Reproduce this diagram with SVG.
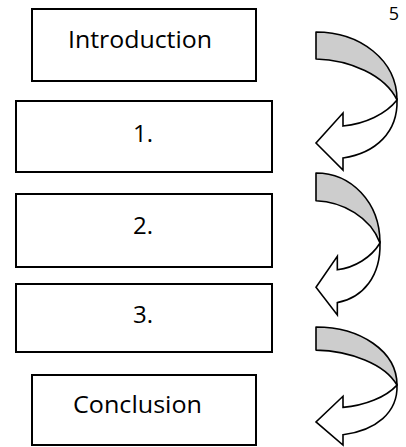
<svg xmlns="http://www.w3.org/2000/svg" width="406" height="447" viewBox="0 0 406 447">
<style>
.box{fill:#fff;stroke:#000;stroke-width:2}
.lbl{font-family:"Open Sans","Noto Sans","Liberation Sans",sans-serif;font-size:24px;fill:#000;text-anchor:middle}
.back{fill:#cdcdcd;stroke:#000;stroke-width:1.6;stroke-linejoin:round;vector-effect:non-scaling-stroke}
.front{fill:#fff;stroke:#000;stroke-width:1.6;stroke-linejoin:miter;vector-effect:non-scaling-stroke}
</style>
<defs>
<g id="curvedArrow">
<path class="back" d="M0,0 C44,0 81,28 81,68 C69,43 34,28 0,27 Z"/>
<path class="front" d="M81,68 C82,100 60,121 27,126 L27,138 L0,111 L27,81 L27,94 C49,92 70,82 81,68 Z"/>
</g>
</defs>
<text x="394" y="20" style="font-family:'Open Sans','Noto Sans','Liberation Sans',sans-serif;font-size:18px;text-anchor:middle">5</text>
<g id="introduction">
<rect class="box" x="32" y="9" width="224" height="72"/>
<text class="lbl" x="140" y="48" textLength="144" lengthAdjust="spacingAndGlyphs">Introduction</text>
</g>
<g id="step1">
<rect class="box" x="16" y="101" width="256" height="71"/>
<text class="lbl" x="143" y="142">1.</text>
</g>
<g id="step2">
<rect class="box" x="16" y="194" width="256" height="73"/>
<text class="lbl" x="143" y="234">2.</text>
</g>
<g id="step3">
<rect class="box" x="16" y="284" width="256" height="68"/>
<text class="lbl" x="143" y="323">3.</text>
</g>
<g id="conclusion">
<rect class="box" x="32" y="375" width="224" height="70"/>
<text class="lbl" x="137.5" y="413" textLength="129" lengthAdjust="spacingAndGlyphs">Conclusion</text>
</g>
<g id="connectors">
<use href="#curvedArrow" transform="translate(316,32)"/>
<use href="#curvedArrow" transform="translate(316,173) scale(0.79,1.029)"/>
<use href="#curvedArrow" transform="translate(316,327) scale(1,0.855)"/>
</g>
</svg>
